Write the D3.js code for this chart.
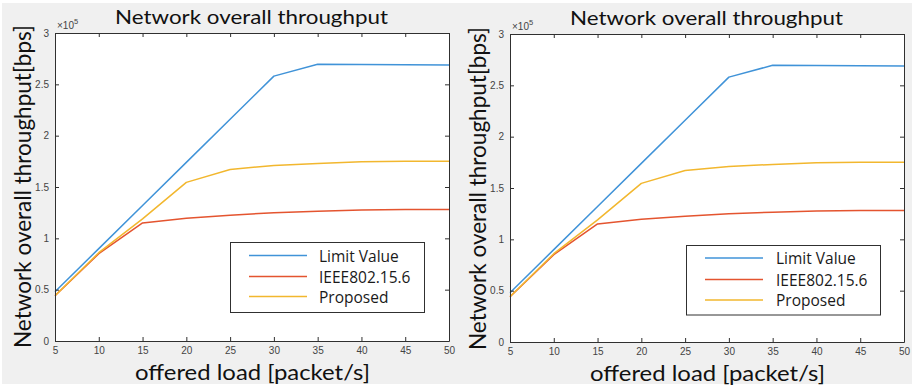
<!DOCTYPE html>
<html>
<head>
<meta charset="utf-8">
<script src="https://cdn.jsdelivr.net/npm/d3@7"></script>
<style>
  html, body { margin: 0; padding: 0; background: #ffffff; }
  svg { display: block; }
</style>
</head>
<body>
<svg id="chart" width="912" height="386"></svg>
<script>
// Offered load (packet/s) on the x axis
const offeredLoad = [5, 10, 15, 20, 25, 30, 35, 40, 45, 50];

// Network overall throughput in bps for each scheme
const limitValue = [48000, 90000, 132000, 174000, 216000, 258000, 269500, 269300, 269000, 268800];
const ieee802156 = [44000, 85000, 115000, 119500, 122500, 125000, 126500, 127500, 128000, 128200];
const proposed   = [44000, 86000, 119000, 154500, 167000, 171000, 173000, 174500, 175000, 175200];

const seriesNames = ["Limit Value", "IEEE802.15.6", "Proposed"];
const seriesColors = ["#4093d8", "#e4542f", "#f2b72e"];

// Tick values
const xTicks = [5, 10, 15, 20, 25, 30, 35, 40, 45, 50];
const yTicks = [0, 50000, 100000, 150000, 200000, 250000, 300000];
const yTickLabels = ["0", "0.5", "1", "1.5", "2", "2.5", "3"];

const titleText = "Network overall throughput";
const xLabelText = "offered load [packet/s]";
const yLabelText = "Network overall throughput[bps]";

// Two identical panels, side by side
const panels = [
  { left: 55, right: 449, top: 33, bottom: 341,
    titleX: 115, titleW: 273, titleY: 23.5,
    xLabX: 135, xLabW: 235, xLabY: 380,
    yLabX: 30.5, yLabTop: 25, yLabBottom: 348,
    legend: { x: 230.5, y: 242.5, w: 194, h: 70, lineX1: 249, lineX2: 307, textX: 319,
              rows: [255.5, 276.5, 296.5] } },
  { left: 510, right: 904, top: 34, bottom: 342,
    titleX: 570, titleW: 273, titleY: 24.5,
    xLabX: 590, xLabW: 235, xLabY: 380.5,
    yLabX: 485.5, yLabTop: 27, yLabBottom: 350,
    legend: { x: 686.5, y: 245.5, w: 194, h: 69.5, lineX1: 705, lineX2: 763, textX: 776,
              rows: [258, 279.5, 300] } }
];

const svg = d3.select("#chart");

// Figure background
svg.append("rect").attr("x", 2).attr("y", 3).attr("width", 910).attr("height", 381)
  .attr("fill", "#f0f0f0");

const allSeries = [limitValue, ieee802156, proposed];
const axisColor = "#303030";
const tickFont = "'Liberation Sans', Arial, sans-serif";
const labelFont = "Lato, 'Noto Sans', sans-serif";

panels.forEach(p => {
  const x = d3.scaleLinear().domain([5, 50]).range([p.left, p.right]);
  const y = d3.scaleLinear().domain([0, 300000]).range([p.bottom, p.top]);
  const g = svg.append("g");

  // Plot area
  g.append("rect")
    .attr("x", p.left).attr("y", p.top)
    .attr("width", p.right - p.left).attr("height", p.bottom - p.top)
    .attr("fill", "#ffffff");

  // Data lines
  const line = d3.line().x((d, i) => x(offeredLoad[i])).y(d => y(d));
  allSeries.forEach((s, k) => {
    g.append("path").datum(s)
      .attr("d", line)
      .attr("fill", "none")
      .attr("stroke", seriesColors[k])
      .attr("stroke-width", 1.5)
      .attr("stroke-linejoin", "round");
  });

  // Axes with inward ticks on all four sides
  const fmtY = v => yTickLabels[yTicks.indexOf(v)];
  const bottomAxis = d3.axisBottom(x).tickValues(xTicks).tickSizeInner(-4).tickSizeOuter(0).tickPadding(6);
  const topAxis = d3.axisTop(x).tickValues(xTicks).tickSizeInner(-4).tickSizeOuter(0).tickFormat("");
  const leftAxis = d3.axisLeft(y).tickValues(yTicks).tickFormat(fmtY).tickSizeInner(-4).tickSizeOuter(0).tickPadding(6);
  const rightAxis = d3.axisRight(y).tickValues(yTicks).tickSizeInner(-4).tickSizeOuter(0).tickFormat("");

  const axes = [
    g.append("g").attr("transform", `translate(0,${p.bottom})`).call(bottomAxis),
    g.append("g").attr("transform", `translate(0,${p.top})`).call(topAxis),
    g.append("g").attr("transform", `translate(${p.left},0)`).call(leftAxis),
    g.append("g").attr("transform", `translate(${p.right},0)`).call(rightAxis)
  ];
  axes.forEach(a => {
    a.select(".domain").attr("stroke", axisColor).attr("stroke-width", 1);
    a.selectAll(".tick line").attr("stroke", axisColor).attr("stroke-width", 1);
    a.selectAll(".tick text").attr("fill", "#444444")
      .attr("font-family", tickFont).attr("font-size", 10);
  });

  // Exponent marker above the y axis
  const ex = g.append("text").attr("x", p.left + 2).attr("y", p.top - 4)
    .attr("font-family", tickFont).attr("font-size", 10).attr("fill", "#444444");
  ex.append("tspan").text("×10");
  ex.append("tspan").attr("dy", -5).attr("font-size", 7.5).text("5");

  // Title
  g.append("text").attr("x", p.titleX).attr("y", p.titleY)
    .attr("font-family", labelFont).attr("font-size", 20).attr("fill", "#111")
    .attr("textLength", p.titleW).attr("lengthAdjust", "spacingAndGlyphs")
    .text(titleText);

  // X axis label
  g.append("text").attr("x", p.xLabX).attr("y", p.xLabY)
    .attr("font-family", labelFont).attr("font-size", 22).attr("fill", "#111")
    .attr("textLength", p.xLabW).attr("lengthAdjust", "spacingAndGlyphs")
    .text(xLabelText);

  // Y axis label
  g.append("text")
    .attr("transform", `translate(${p.yLabX},${p.yLabBottom}) rotate(-90)`)
    .attr("font-family", labelFont).attr("font-size", 23).attr("fill", "#111")
    .attr("textLength", p.yLabBottom - p.yLabTop).attr("lengthAdjust", "spacingAndGlyphs")
    .text(yLabelText);

  // Legend
  const L = p.legend;
  g.append("rect").attr("x", L.x).attr("y", L.y).attr("width", L.w).attr("height", L.h)
    .attr("fill", "#ffffff").attr("stroke", axisColor).attr("stroke-width", 1);
  seriesNames.forEach((name, k) => {
    g.append("line").attr("x1", L.lineX1).attr("x2", L.lineX2)
      .attr("y1", L.rows[k]).attr("y2", L.rows[k])
      .attr("stroke", seriesColors[k]).attr("stroke-width", 1.5);
    g.append("text").attr("x", L.textX).attr("y", L.rows[k] + 6)
      .attr("font-family", "'Open Sans', 'Noto Sans', sans-serif").attr("font-size", 15.5)
      .attr("fill", "#1a1a1a").text(name);
  });
});
</script>
</body>
</html>
